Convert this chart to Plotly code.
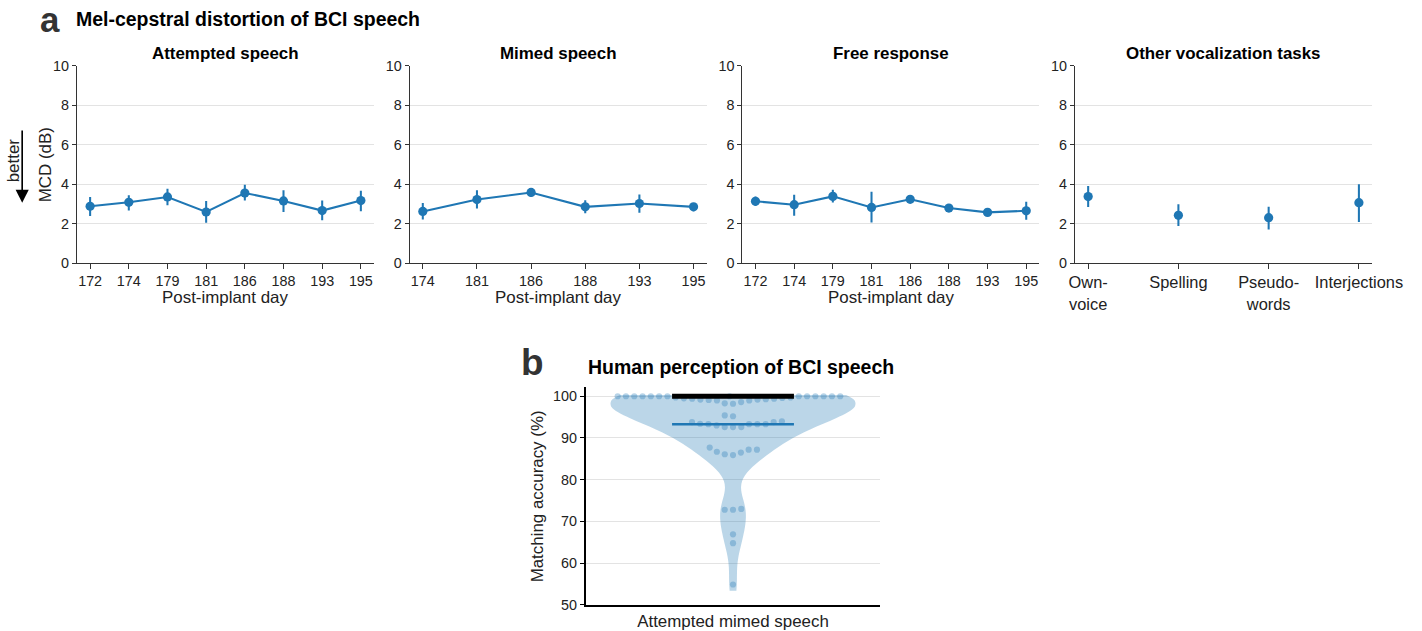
import numpy as np
import plotly.graph_objects as go

# ---------------- data ----------------
attempted_days = ["172", "174", "179", "181", "186", "188", "193", "195"]
attempted_mcd = [2.89, 3.09, 3.36, 2.60, 3.56, 3.16, 2.67, 3.18]
attempted_lo = [2.40, 2.67, 2.94, 2.05, 3.18, 2.60, 2.18, 2.64]
attempted_hi = [3.36, 3.45, 3.78, 3.16, 3.98, 3.70, 3.18, 3.68]

mimed_days = ["174", "181", "186", "188", "193", "195"]
mimed_mcd = [2.63, 3.23, 3.59, 2.86, 3.03, 2.86]
mimed_lo = [2.22, 2.78, 3.37, 2.53, 2.56, 2.64]
mimed_hi = [3.06, 3.70, 3.82, 3.20, 3.48, 3.06]

free_days = ["172", "174", "179", "181", "186", "188", "193", "195"]
free_mcd = [3.14, 2.97, 3.39, 2.83, 3.24, 2.80, 2.58, 2.66]
free_lo = [2.92, 2.41, 3.08, 2.07, 3.09, 2.66, 2.41, 2.21]
free_hi = [3.39, 3.47, 3.73, 3.63, 3.37, 2.92, 2.71, 3.12]

other_tasks = ["Own-<br>voice", "Spelling", "Pseudo-<br>words", "Interjections"]
other_mcd = [3.38, 2.43, 2.31, 3.07]
other_lo = [2.85, 1.89, 1.72, 2.09]
other_hi = [3.92, 2.99, 2.87, 4.00]

# per-listener matching accuracy (%)
matching_accuracy = [
    98.3, 98.2, 98.6, 99.0, 99.0, 99.1, 99.2, 99.2, 99.3, 99.4, 99.4, 99.5,
    99.6, 99.7, 99.7,
    100, 100, 100, 100, 100, 100, 100, 100, 100, 100, 100, 100, 100, 100,
    94.0, 93.4, 92.6, 93.8, 93.3, 93.3, 93.8, 93.3, 93.0, 92.6, 95.4, 95.2,
    93.3, 92.6,
    87.2, 86.1, 87.2, 87.7, 86.7, 85.9, 86.5,
    73.0, 72.8, 72.8, 66.9, 64.8, 54.9,
]
mean_accuracy = 93.3
upper_bar_level = 100.0

# ---------------- page geometry ----------------
# Layout is specified in target-view pixels; the page is rendered with an
# 8 px body margin and viewed at S = 631/647, so convert view px -> figure px.
S = 631 / 647
M = 8
W = int(round(1422 / S)) - 2 * M   # figure width in CSS px
H = 647 - 2 * M                     # figure height in CSS px


def u(v):
    """View-pixel size -> CSS-pixel size (fonts, widths, lengths)."""
    return v / S


def fx(p):
    return (p / S - M) / W


def fy(p):
    return 1 - (p / S - M) / H


FONT = "Liberation Sans"
BLUE = "rgb(31,119,180)"
GRID = "#e3e3e3"
AXIS = "#333333"
TICK_FONT = dict(family=FONT, size=u(14), color="#222222")

fig = go.Figure()

panels = [
    ("Attempted speech", attempted_days, attempted_mcd, attempted_lo, attempted_hi, True),
    ("Mimed speech", mimed_days, mimed_mcd, mimed_lo, mimed_hi, True),
    ("Free response", free_days, free_mcd, free_lo, free_hi, True),
    ("Other vocalization tasks", other_tasks, other_mcd, other_lo, other_hi, False),
]
lefts = [79, 412, 745, 1078]
plot_w = 297
pad_px = 13
top_px, bot_px = 66, 265

annotations = []
for k, (title, cats, vals, lo, hi, joined) in enumerate(panels):
    n = len(cats)
    idx = list(range(n))
    vals = np.array(vals)
    lo = np.array(lo)
    hi = np.array(hi)
    xa = "x" if k == 0 else f"x{k + 1}"
    ya = "y" if k == 0 else f"y{k + 1}"
    fig.add_trace(go.Scatter(
        x=idx, y=vals, xaxis=xa, yaxis=ya,
        mode="lines+markers" if joined else "markers",
        line=dict(color=BLUE, width=u(2)),
        marker=dict(color=BLUE, size=u(9)),
        error_y=dict(type="data", symmetric=False, array=hi - vals,
                     arrayminus=vals - lo, color=BLUE, thickness=u(2), width=0),
        showlegend=False, hoverinfo="skip",
    ))
    step = (plot_w - 2 * pad_px) / (n - 1)
    rng = [-pad_px / step, n - 1 + pad_px / step]
    left = lefts[k]
    suffix = "" if k == 0 else str(k + 1)
    fig.update_layout(**{
        f"xaxis{suffix}": dict(
            domain=[fx(left), fx(left + plot_w)], anchor=ya, range=rng,
            tickvals=idx, ticktext=cats, showgrid=False, zeroline=False,
            showline=True, linecolor=AXIS, linewidth=u(1.2), ticks="outside",
            ticklen=u(4), tickcolor=AXIS,
            tickfont=dict(family=FONT, size=u(16) if not joined else u(14),
                          color="#222222"),
        ),
        f"yaxis{suffix}": dict(
            domain=[fy(bot_px), fy(top_px)], anchor=xa, range=[0, 10],
            tickvals=[0, 2, 4, 6, 8, 10], showgrid=True, gridcolor=GRID,
            gridwidth=1, zeroline=False, showline=True, linecolor=AXIS,
            linewidth=u(1.2), ticks="outside", ticklen=u(4), tickcolor=AXIS,
            tickfont=TICK_FONT,
        ),
    })
    cx = fx(left + plot_w / 2)
    annotations.append(dict(
        text=f"<b>{title}</b>", x=cx, y=fy(54), xanchor="center", yanchor="middle",
        font=dict(family=FONT, size=u(16.5), color="black")))
    if joined:
        annotations.append(dict(
            text="Post-implant day", x=cx, y=fy(299), xanchor="center",
            yanchor="middle", font=dict(family=FONT, size=u(16.5), color="#222222")))

# ---- panel b: violin with swarm ----
b_left, b_right = 588, 883
b_top, b_bot = 390, 609
y_rng = [50, 102.1]
px_per_x = (b_right - b_left)  # x range spans one unit
px_per_y = (b_bot - b_top) / (y_rng[1] - y_rng[0])

acc = np.array(matching_accuracy, dtype=float)


def beeswarm(values, gap, scale):
    """Place points side by side so markers of diameter `gap` do not overlap."""
    ys = values * scale
    order = np.argsort(values, kind="stable")
    offsets = np.zeros(len(values))
    placed = []
    for i in order:
        y = ys[i]
        neigh = [(px, py) for px, py in placed if abs(py - y) < gap]
        cands = [0.0]
        for px, py in neigh:
            dx = np.sqrt(max(gap * gap - (py - y) ** 2, 0.0))
            cands += [px - dx, px + dx]
        cands.sort(key=lambda c: (abs(c), c))
        for c in cands:
            if all((c - px) ** 2 + (y - py) ** 2 >= gap * gap - 1e-6 for px, py in neigh):
                offsets[i] = c
                break
        placed.append((offsets[i], y))
    return offsets


swarm_x = beeswarm(acc, 8.3, px_per_y) / px_per_x

fig.add_trace(go.Violin(
    y=acc, x0=0, xaxis="x5", yaxis="y5", width=244 / px_per_x,
    bandwidth=4.2, spanmode="manual", span=[53.4, 100.3],
    fillcolor="rgba(31,119,180,0.30)", line=dict(color="rgba(0,0,0,0)", width=0),
    points=False, box_visible=False, meanline_visible=False,
    showlegend=False, hoverinfo="skip",
))
fig.add_trace(go.Scatter(
    x=swarm_x, y=acc, xaxis="x5", yaxis="y5", mode="markers",
    marker=dict(color="rgba(31,119,180,0.32)", size=u(6)),
    showlegend=False, hoverinfo="skip",
))
bar_half = 61 / px_per_x
fig.add_trace(go.Scatter(
    x=[-bar_half, bar_half], y=[mean_accuracy, mean_accuracy],
    xaxis="x5", yaxis="y5", mode="lines", line=dict(color=BLUE, width=u(2.5)),
    showlegend=False, hoverinfo="skip",
))
fig.add_trace(go.Scatter(
    x=[-bar_half, bar_half], y=[upper_bar_level, upper_bar_level],
    xaxis="x5", yaxis="y5", mode="lines", line=dict(color="black", width=u(5)),
    showlegend=False, hoverinfo="skip",
))

fig.update_layout(
    xaxis5=dict(domain=[fx(b_left), fx(b_right)], anchor="y5", range=[-0.5, 0.5],
                type="linear", tickvals=[0], ticktext=["Attempted mimed speech"],
                ticks="", showgrid=False, zeroline=False, showline=True,
                linecolor="black", linewidth=u(1.5),
                tickfont=dict(family=FONT, size=u(16.5), color="#222222")),
    yaxis5=dict(domain=[fy(b_bot), fy(b_top)], anchor="x5", range=y_rng,
                tickvals=[50, 60, 70, 80, 90, 100], showgrid=True, gridcolor=GRID,
                zeroline=False, showline=True, linecolor="black", linewidth=u(1.5),
                ticks="outside", ticklen=u(4), tickcolor="black", tickfont=TICK_FONT),
)

# ---- titles and labels ----
annotations += [
    dict(text="<b>a</b>", x=fx(41), y=fy(19), xanchor="left", yanchor="middle",
         borderpad=0, font=dict(family=FONT, size=u(34), color="#333333")),
    dict(text="<b>Mel-cepstral distortion of BCI speech</b>", x=fx(76), y=fy(19),
         xanchor="left", yanchor="middle",
         font=dict(family=FONT, size=u(19), color="black")),
    dict(text="<b>b</b>", x=fx(522), y=fy(365), xanchor="left", yanchor="middle",
         borderpad=0, font=dict(family=FONT, size=u(36), color="#333333")),
    dict(text="<b>Human perception of BCI speech</b>", x=fx(588), y=fy(369),
         xanchor="left", yanchor="middle",
         font=dict(family=FONT, size=u(19), color="black")),
    dict(text="MCD (dB)", x=fx(47), y=fy(166), textangle=-90, xanchor="center",
         yanchor="middle", font=dict(family=FONT, size=u(16.5), color="#222222")),
    dict(text="better", x=fx(15), y=fy(161), textangle=-90, xanchor="center",
         yanchor="middle", font=dict(family=FONT, size=u(16.5), color="#222222")),
    dict(text="Matching accuracy (%)", x=fx(540), y=fy(500), textangle=-90,
         xanchor="center", yanchor="middle",
         font=dict(family=FONT, size=u(16.5), color="#222222")),
]
for a in annotations:
    a.setdefault("xref", "paper")
    a.setdefault("yref", "paper")
    a.setdefault("showarrow", False)

annotations.append(dict(
    text="", x=fx(24), y=fy(204), xref="paper", yref="paper", showarrow=True,
    ax=0, ay=-u(72), axref="pixel", ayref="pixel", arrowhead=2, arrowsize=1.6,
    arrowwidth=u(1.6), arrowcolor="black"))

fig.update_layout(
    width=W, height=H, margin=dict(l=0, r=0, t=0, b=0),
    paper_bgcolor="white", plot_bgcolor="white",
    annotations=annotations, font=dict(family=FONT),
)

fig.write_html("out.html")
